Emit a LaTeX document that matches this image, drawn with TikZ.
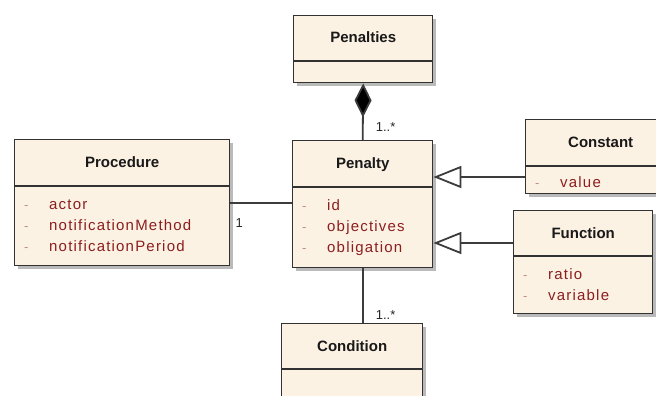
\documentclass[tikz,border=0pt]{standalone}
\usepackage{fontspec}
\setmainfont{Liberation Sans}
\newfontfamily\attrfont[LetterSpace=8]{Liberation Sans}
\usepackage{tikz}
\usetikzlibrary{calc,arrows.meta,shadows}

\definecolor{boxfill}{RGB}{252,242,228}
\definecolor{boxline}{RGB}{50,50,50}
\definecolor{attrred}{RGB}{140,30,30}
\definecolor{dashred}{RGB}{190,140,135}
\definecolor{linegray}{RGB}{60,60,60}

\tikzset{
  umlbox/.style={draw=boxline, line width=1.4pt, fill=boxfill, inner sep=0pt,
    drop shadow={shadow xshift=3pt, shadow yshift=-3pt, fill=black!45, opacity=0.6}},
  umltitle/.style={font=\fontsize{15}{18}\selectfont\bfseries, text=black!90, anchor=base, inner sep=0pt},
  umlattr/.style={font=\fontsize{15}{18}\attrfont, text=attrred, anchor=base west, inner sep=0pt},
  umldash/.style={font=\fontsize{13}{16}\selectfont, text=dashred, anchor=base west, inner sep=0pt},
  umlmult/.style={font=\fontsize{13}{15}\selectfont, text=black!85, anchor=base west, inner sep=0pt},
  umlconn/.style={draw=linegray, line width=1.8pt},
}

% class box: [name](left,top)(width:height:header height){title}
\def\umlclass[#1](#2,#3)(#4:#5:#6)#7{%
  \node[umlbox, minimum width=#4pt, minimum height=#5pt, anchor=north west] (#1) at (#2,#3) {};
  \draw[draw=boxline, line width=1.4pt] ($(#1.north west)+(0,#6)$) -- ($(#1.north east)+(0,#6)$);
  \node[umltitle] (#1-title) at ($(#1.north)+(0,#6/2+5)$) {#7};
}
% attributes: [name](header height){list}
\def\umlattrs[#1](#2)#3{%
  \foreach \attr [count=\i] in {#3} {
    \node[umldash] (#1-d\i) at ($(#1.north west)+(10,#2+23+21*\i-21)$) {-};
    \node[umlattr] (#1-a\i) at ($(#1.north west)+(35,#2+23+21*\i-21)$) {\attr};
  }%
}

\begin{document}
\begin{tikzpicture}[x=1pt,y=-1pt]
  %%%%% START %%%%%
  \useasboundingbox (0,0) rectangle (656,396);
  \clip (0,0) rectangle (656,396);

  \umlclass[Penalties](293,15)(139:67:46){Penalties}
  \umlclass[Penalty](292,140)(140:127:47){Penalty}
  \umlattrs[Penalty](47){id, objectives, obligation}

  \umlclass[Procedure](14,139)(215:126:47){Procedure}
  \umlattrs[Procedure](47){actor, notificationMethod, notificationPeriod}

  \umlclass[Constant](525,119)(150:74:47){Constant}
  \umlattrs[Constant](45){value}

  \umlclass[Function](513,210)(139:103:46){Function}
  \umlattrs[Function](46){ratio, variable}

  \umlclass[Condition](281,323)(141:100:46){Condition}

  % composition
  \draw[umlconn, {Diamond[length=34pt,width=17pt,fill=black]}-] (Penalties.south) -- (Penalty.north);
  \node[umlmult] (mPen) at ($(Penalty.north)+(13,-9)$) {1..*};

  % association
  \draw[umlconn] (Procedure.east) -- (Procedure.east -| Penalty.west);
  \node[umlmult] (mProc) at ($(Procedure.east)+(5,25)$) {1};

  \draw[umlconn] (Penalty.south) -- (Penalty.south |- Condition.north);
  \node[umlmult] (mCond) at ($(Penalty.south)+(13,51)$) {1..*};

  % generalization
  \draw[umlconn, -{Triangle[open,length=28pt,width=22pt,fill=white]}] (Constant.west |- 0,177) -- (Penalty.east |- 0,177);
  \draw[umlconn, -{Triangle[open,length=28pt,width=22pt,fill=white]}] (Function.west |- 0,243) -- (Penalty.east |- 0,243);
  %%%%% END %%%%%
\end{tikzpicture}
\end{document}
